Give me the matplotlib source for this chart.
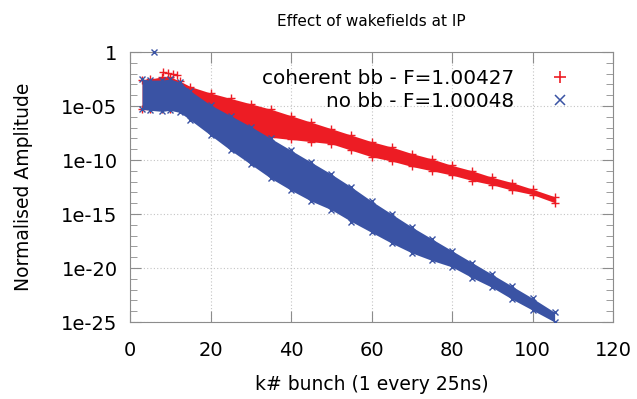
import numpy as np
import matplotlib.pyplot as plt
from matplotlib.lines import Line2D

bunch = [3, 5, 8, 10, 12.4, 15, 20, 25, 30, 35, 40, 45, 50, 55, 60, 65, 70, 75, 80, 85, 90, 95, 100, 105.5]

# log10 of amplitude, upper/lower edge of each cloud of points
coh_top = [-2.6, -2.5, -2.3, -2.3, -2.7, -3.2, -3.8, -4.3, -4.8, -5.3, -5.9, -6.5, -7.1, -7.7,
           -8.3, -8.8, -9.4, -9.9, -10.5, -11.0, -11.6, -12.1, -12.7, -13.4]
coh_bot = [-5.3, -5.3, -5.3, -5.3, -5.3, -5.8, -6.5, -7.0, -7.5, -7.9, -8.1, -8.3, -8.5, -9.1,
           -9.7, -10.1, -10.6, -11.0, -11.4, -11.9, -12.3, -12.8, -13.2, -13.95]
nobb_top = [-2.5, -2.6, -2.6, -2.5, -2.8, -3.6, -4.9, -5.9, -6.9, -8.0, -9.1, -10.2, -11.3, -12.5,
            -13.8, -15.0, -16.2, -17.3, -18.4, -19.5, -20.6, -21.7, -22.8, -24.1]
nobb_bot = [-5.3, -5.4, -5.5, -5.4, -5.6, -6.3, -7.7, -9.1, -10.4, -11.7, -12.8, -13.8, -14.6, -15.7,
            -16.7, -17.7, -18.6, -19.3, -19.9, -20.9, -21.8, -22.9, -23.9, -25.0]

# isolated points sticking out of the clouds
coh_out_k = [8.2, 9.5, 10.6, 11.7]
coh_out_y = [-1.85, -1.95, -2.05, -2.1]
nobb_out_k = [6.0]
nobb_out_y = [0.0]

labels = ["coherent bb - F=1.00427", "no bb - F=1.00048"]
yticks = [1, 1e-5, 1e-10, 1e-15, 1e-20, 1e-25]
ytick_labels = ["1", "1e-05", "1e-10", "1e-15", "1e-20", "1e-25"]
xticks = [0, 20, 40, 60, 80, 100, 120]

red = "#ed1c24"
blue = "#3a53a4"
edge = "#8c8c8c"

fig = plt.figure(figsize=(6.37, 3.99), dpi=100)
ax = fig.add_axes([130/637, 1-322/399, 483/637, 270/399])

k = np.array(bunch)
ax.fill_between(k, 10**np.array(coh_bot), 10**np.array(coh_top), color=red, lw=0, zorder=2)
ax.plot(k, 10**np.array(coh_top), "+", color=red, ms=6, mew=1, zorder=2)
ax.plot(k, 10**np.array(coh_bot), "+", color=red, ms=6, mew=1, zorder=2)
ax.plot(coh_out_k, 10**np.array(coh_out_y), "+", color=red, ms=6, mew=1, zorder=2)

ax.fill_between(k, 10**np.array(nobb_bot), 10**np.array(nobb_top), color=blue, lw=0, zorder=3)
ax.plot(k, 10**np.array(nobb_top), "x", color=blue, ms=5, mew=1, zorder=3)
ax.plot(k, 10**np.array(nobb_bot), "x", color=blue, ms=5, mew=1, zorder=3)
ax.plot(nobb_out_k, 10**np.array(nobb_out_y), "x", color=blue, ms=4, mew=1, zorder=3, clip_on=False)

ax.set_yscale("log")
ax.set_xlim(0, 120)
ax.set_ylim(1e-25, 1)
ax.set_xticks(xticks)
ax.set_yticks(yticks)
ax.set_yticklabels(ytick_labels)
ax.set_yticks([10.0**(-e) for e in range(1, 25) if e % 5], minor=True)
ax.yaxis.set_minor_formatter(plt.NullFormatter())

ax.grid(True, which="major", ls=(0, (1, 2)), color="#c4c4c4", lw=0.8)
ax.set_axisbelow(True)
for s in ax.spines.values():
    s.set_color(edge)
ax.tick_params(which="both", direction="in", top=True, right=True, color=edge, labelsize=14)
ax.tick_params(which="major", length=8)
ax.tick_params(which="minor", length=5)
ax.tick_params(axis="x", pad=13.5)
ax.tick_params(axis="y", pad=9)

ax.set_xlabel("k# bunch (1 every 25ns)", fontsize=13.5, labelpad=11)
ax.set_ylabel("Normalised Amplitude", fontsize=13.5, labelpad=20)
ax.set_title("Effect of wakefields at IP", fontsize=11, pad=19)

h1 = Line2D([], [], ls="none", marker="+", color=red, ms=9, mew=1.2)
h2 = Line2D([], [], ls="none", marker="x", color=blue, ms=7, mew=1.1)
ax.legend([h1, h2], labels, loc="upper right", bbox_to_anchor=(0.94, 0.99), frameon=False,
          fontsize=14.4, markerfirst=False, handlelength=1.0, handletextpad=1.8,
          labelspacing=0.2, borderpad=0.2)

fig.savefig("out.png", dpi=100)
